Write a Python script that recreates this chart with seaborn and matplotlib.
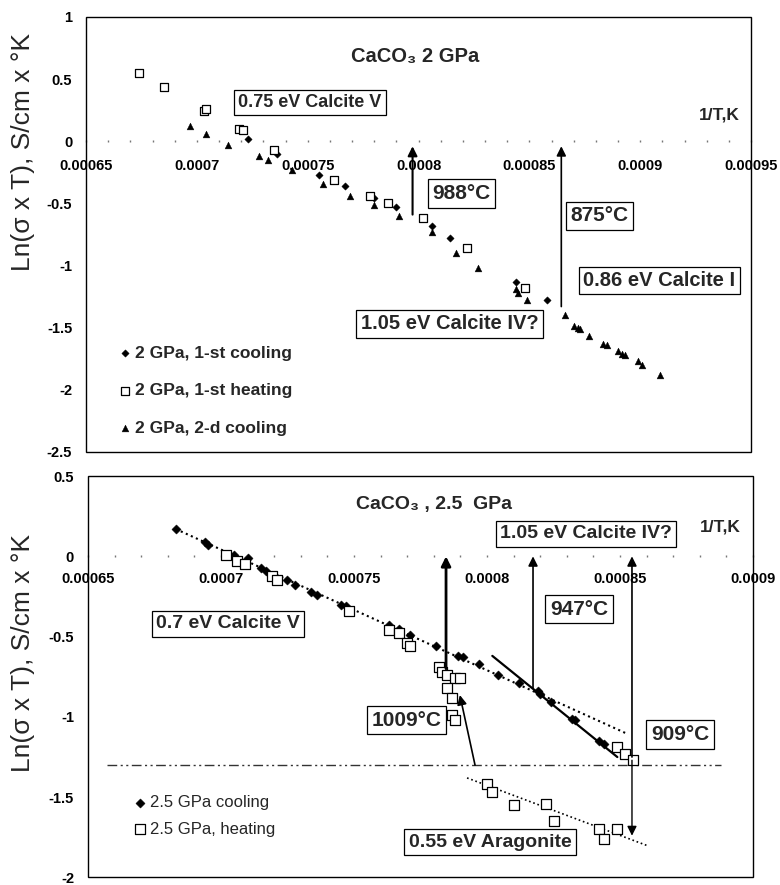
import matplotlib
matplotlib.use("Agg")
import matplotlib.pyplot as plt
from matplotlib.patches import Rectangle
from matplotlib.ticker import FixedLocator, FixedFormatter, MultipleLocator
import seaborn as sns

sns.set_theme(style="white")
plt.rcParams["font.family"] = ["Liberation Sans", "DejaVu Sans"]

# ---- top panel: CaCO3 2 GPa ----
cool1_x = [0.000723, 0.000736, 0.000755, 0.000767, 0.000780, 0.000790, 0.000806,
           0.000814, 0.000844, 0.000858]
cool1_y = [0.02, -0.10, -0.27, -0.36, -0.46, -0.53, -0.68, -0.78, -1.13, -1.28]

heat1_x = [0.000674, 0.000685, 0.000703, 0.000704, 0.000719, 0.000721, 0.000735,
           0.000762, 0.000778, 0.000786, 0.000802, 0.000822, 0.000848]
heat1_y = [0.55, 0.44, 0.24, 0.26, 0.10, 0.09, -0.07, -0.31, -0.44, -0.50,
           -0.62, -0.86, -1.18]

cool2_x = [0.000697, 0.000704, 0.000714, 0.000728, 0.000732, 0.000743, 0.000757,
           0.000769, 0.000780, 0.000791, 0.000806, 0.000817, 0.000827, 0.000844,
           0.000845, 0.000849, 0.000866, 0.000870, 0.000872, 0.000873, 0.000877,
           0.000883, 0.000885, 0.000890, 0.000892, 0.000893, 0.000899, 0.000901,
           0.000909]
cool2_y = [0.12, 0.06, -0.03, -0.12, -0.15, -0.23, -0.34, -0.44, -0.51, -0.60,
           -0.73, -0.90, -1.02, -1.19, -1.22, -1.28, -1.40, -1.49, -1.50, -1.51,
           -1.57, -1.63, -1.64, -1.69, -1.71, -1.72, -1.77, -1.80, -1.88]

top_xticks = [0.00065, 0.0007, 0.00075, 0.0008, 0.00085, 0.0009, 0.00095]
top_xlabels = ["0.00065", "0.0007", "0.00075", "0.0008", "0.00085", "0.0009", "0.00095"]
top_yticks = [1, 0.5, 0, -0.5, -1, -1.5, -2, -2.5]
top_ylabels = ["1", "0.5", "0", "-0.5", "-1", "-1.5", "-2", "-2.5"]

# ---- bottom panel: CaCO3 2.5 GPa ----
cool25_x = [0.000683, 0.000694, 0.000695, 0.000705, 0.000710, 0.000715, 0.000717,
            0.000725, 0.000728, 0.000734, 0.000736, 0.000745, 0.000747, 0.000763,
            0.000767, 0.000771, 0.000781, 0.000789, 0.000791, 0.000797, 0.000804,
            0.000812, 0.000819, 0.000820, 0.000824, 0.000832, 0.000833, 0.000842,
            0.000844]
cool25_y = [0.17, 0.09, 0.07, 0.01, -0.01, -0.07, -0.09, -0.15, -0.18, -0.22,
            -0.24, -0.30, -0.31, -0.43, -0.45, -0.49, -0.56, -0.62, -0.63, -0.67,
            -0.74, -0.79, -0.84, -0.86, -0.91, -1.01, -1.02, -1.15, -1.17]

heat25_x = [0.000702, 0.000706, 0.000709, 0.000719, 0.000721, 0.000748, 0.000763,
            0.000767, 0.000770, 0.000771, 0.000782, 0.000783, 0.000785, 0.000788,
            0.000790, 0.000785, 0.000787, 0.000787, 0.000788, 0.000849, 0.000852,
            0.000855, 0.000800, 0.000802, 0.000810, 0.000822, 0.000825, 0.000842,
            0.000844, 0.000849]
heat25_y = [0.01, -0.03, -0.05, -0.12, -0.15, -0.34, -0.46, -0.48, -0.54, -0.56,
            -0.69, -0.72, -0.74, -0.76, -0.76, -0.82, -0.88, -0.99, -1.02, -1.19,
            -1.23, -1.27, -1.42, -1.47, -1.55, -1.54, -1.65, -1.70, -1.76, -1.70]

fitV_x = [0.000683, 0.000852]
fitV_y = [0.17, -1.10]
fitIV_x = [0.000802, 0.000849]
fitIV_y = [-0.62, -1.25]
arag_x = [0.0007925, 0.000860]
arag_y = [-1.38, -1.80]
level_x = [0.000657, 0.000888]
level_y = [-1.30, -1.30]

bot_xticks = [0.00065, 0.0007, 0.00075, 0.0008, 0.00085, 0.0009]
bot_xlabels = ["0.00065", "0.0007", "0.00075", "0.0008", "0.00085", "0.0009"]
bot_yticks = [0.5, 0, -0.5, -1, -1.5, -2]
bot_ylabels = ["0.5", "0", "-0.5", "-1", "-1.5", "-2"]

ylabel = "Ln(σ x T), S/cm x °K"

fig = plt.figure(figsize=(7.8, 8.85), dpi=100)
ax1 = fig.add_axes([0.1103, 0.4893, 0.8526, 0.4915])
ax2 = fig.add_axes([0.1128, 0.0085, 0.8526, 0.4536])


def style_axes(ax, xticks, xlabels, yticks, ylabels, xpad):
    ax.set_facecolor("white")
    for s in ax.spines.values():
        s.set_visible(False)
    ax.spines["bottom"].set_position(("data", 0))
    ax.spines["left"].set_position(("data", xticks[0]))
    ax.add_patch(Rectangle((0, 0), 1, 1, transform=ax.transAxes, fill=False,
                           edgecolor="black", lw=1.0, clip_on=False, zorder=5))
    ax.xaxis.set_major_locator(FixedLocator(xticks))
    ax.xaxis.set_major_formatter(FixedFormatter(xlabels))
    ax.xaxis.set_minor_locator(MultipleLocator(0.00001))
    ax.yaxis.set_major_locator(FixedLocator(yticks))
    ax.yaxis.set_major_formatter(FixedFormatter(ylabels))
    ax.tick_params(axis="x", which="both", direction="inout", length=2, width=1,
                   color="#777777", pad=xpad, labelsize=10.5, bottom=True)
    ax.tick_params(axis="y", which="both", length=0, pad=10, labelsize=10.5, left=True)
    for lab in ax.get_xticklabels() + ax.get_yticklabels():
        lab.set_fontweight("bold")
        lab.set_color("black")
    ax.set_xlabel("")
    ax.set_ylabel("")
    ax.grid(False)


def boxed(ax, x, y, txt, size):
    ax.text(x, y, txt, ha="center", va="center", fontsize=size, fontweight="bold",
            bbox=dict(boxstyle="square,pad=0.22", fc="white", ec="black", lw=0.9),
            zorder=6)


def arrow(ax, x, y0, y1, lw, x1=None):
    ax.annotate("", xy=(x if x1 is None else x1, y1), xytext=(x, y0),
                arrowprops=dict(arrowstyle="-|>", color="black", lw=lw,
                                mutation_scale=14, shrinkA=0, shrinkB=0), zorder=4)


# top panel
sns.scatterplot(x=cool1_x, y=cool1_y, ax=ax1, marker="D", s=14, color="black",
                edgecolor="black", linewidth=0.3, label="2 GPa, 1-st cooling", zorder=3)
sns.scatterplot(x=heat1_x, y=heat1_y, ax=ax1, marker="s", s=26, facecolor="white",
                edgecolor="black", linewidth=0.9, label="2 GPa, 1-st heating", zorder=3)
sns.scatterplot(x=cool2_x, y=cool2_y, ax=ax1, marker="^", s=24, color="black",
                edgecolor="black", linewidth=0.3, label="2 GPa, 2-d cooling", zorder=3)
ax1.set_xlim(0.00065, 0.00095)
ax1.set_ylim(-2.5, 1)
style_axes(ax1, top_xticks, top_xlabels, top_yticks, top_ylabels, 12)

ax1.text(0.0007986, 0.68, "CaCO₃ 2 GPa", ha="center", va="center",
         fontsize=14.5, fontweight="bold")
ax1.text(0.0009356, 0.21, "1/T,K", ha="center", va="center", fontsize=12.5,
         fontweight="bold")
boxed(ax1, 0.000751, 0.31, "0.75 eV Calcite V", 13)
boxed(ax1, 0.0008194, -0.42, "988°C", 15)
boxed(ax1, 0.0008815, -0.60, "875°C", 15)
boxed(ax1, 0.0009086, -1.12, "0.86 eV Calcite I", 14.5)
boxed(ax1, 0.000814, -1.47, "1.05 eV Calcite IV?", 14.5)
arrow(ax1, 0.0007973, -0.59, -0.04, 1.5)
arrow(ax1, 0.0008644, -1.33, -0.04, 1.2)

leg1 = ax1.legend(loc="upper left", bbox_to_anchor=(0.045, 0.245), frameon=False,
                  fontsize=12.5, handletextpad=0.1, handlelength=1.0,
                  labelspacing=1.3, borderaxespad=0, borderpad=0)
for t in leg1.get_texts():
    t.set_fontweight("bold")

# bottom panel
sns.lineplot(x=fitV_x, y=fitV_y, ax=ax2, color="black", lw=1.5, ls=":",
             estimator=None, sort=False, zorder=2)
sns.lineplot(x=fitIV_x, y=fitIV_y, ax=ax2, color="black", lw=1.6, ls="-",
             estimator=None, sort=False, zorder=2)
sns.lineplot(x=arag_x, y=arag_y, ax=ax2, color="black", lw=1.2, ls=":",
             estimator=None, sort=False, zorder=2)
sns.lineplot(x=level_x, y=level_y, ax=ax2, color="#333333", lw=1.0,
             ls=(0, (7, 2.5, 1.5, 2.5, 1.5, 2.5)), estimator=None, sort=False, zorder=2)
sns.scatterplot(x=cool25_x, y=cool25_y, ax=ax2, marker="D", s=22, color="black",
                edgecolor="black", linewidth=0.3, label="2.5 GPa cooling", zorder=3)
sns.scatterplot(x=heat25_x, y=heat25_y, ax=ax2, marker="s", s=46, facecolor="white",
                edgecolor="black", linewidth=0.9, label="2.5 GPa, heating", zorder=3)
ax2.set_xlim(0.00065, 0.0009)
ax2.set_ylim(-2, 0.5)
style_axes(ax2, bot_xticks, bot_xlabels, bot_yticks, bot_ylabels, 10)

ax2.text(0.00078, 0.32, "CaCO₃ , 2.5  GPa", ha="center", va="center",
         fontsize=14, fontweight="bold")
ax2.text(0.0008876, 0.185, "1/T,K", ha="center", va="center", fontsize=12.5,
         fontweight="bold")
boxed(ax2, 0.0008372, 0.14, "1.05 eV Calcite IV?", 14)
boxed(ax2, 0.0008346, -0.33, "947°C", 15)
boxed(ax2, 0.0007026, -0.42, "0.7 eV Calcite V", 14)
boxed(ax2, 0.0007696, -1.02, "1009°C", 15)
boxed(ax2, 0.0008726, -1.11, "909°C", 15)
boxed(ax2, 0.0008011, -1.78, "0.55 eV Aragonite", 14)
arrow(ax2, 0.0007846, -0.70, 0.0, 2.0)
arrow(ax2, 0.0008173, -0.82, 0.0, 1.2)
arrow(ax2, 0.0008545, -1.25, 0.0, 1.2)
arrow(ax2, 0.0008545, -1.27, -1.74, 1.0)
arrow(ax2, 0.0007955, -1.30, -0.864, 1.2, x1=0.0007898)

leg2 = ax2.legend(loc="upper left", bbox_to_anchor=(0.065, 0.205), frameon=False,
                  fontsize=12, handletextpad=0.1, handlelength=1.0,
                  labelspacing=0.7, borderaxespad=0, borderpad=0)

fig.text(0.0295, 0.828, ylabel, rotation=90, ha="center", va="center", fontsize=19)
fig.text(0.0295, 0.262, ylabel, rotation=90, ha="center", va="center", fontsize=19)

fig.savefig("out.png", dpi=100)
